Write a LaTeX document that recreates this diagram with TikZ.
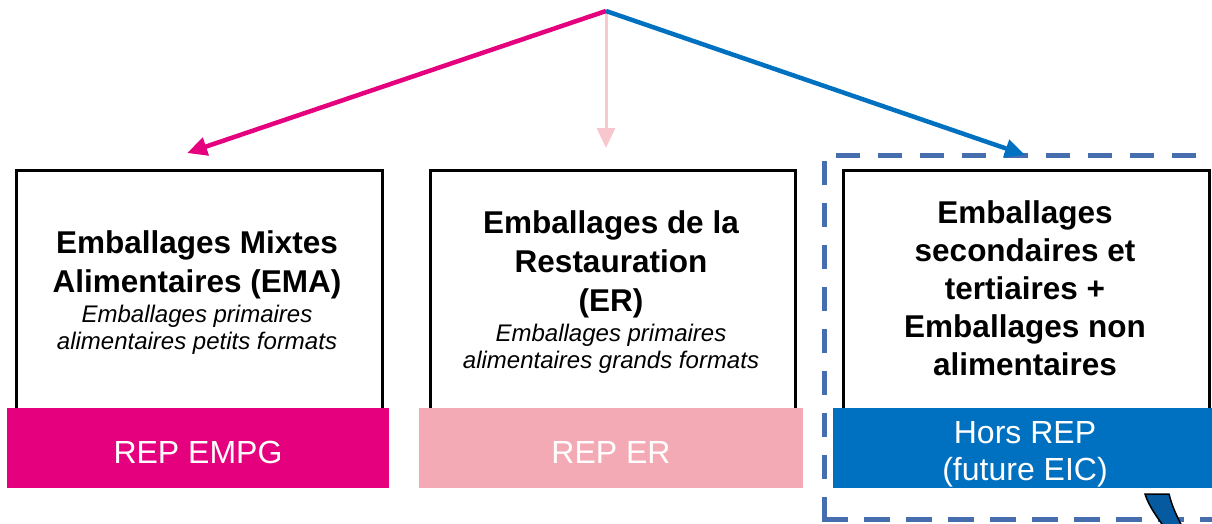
\documentclass[tikz,border=0pt]{standalone}
\usepackage{fontspec}
\setmainfont{Liberation Sans}
\usetikzlibrary{arrows.meta}
\definecolor{mag}{RGB}{229,0,126}
\definecolor{lpink}{RGB}{243,170,180}
\definecolor{lpinkarrow}{RGB}{247,198,206}
\definecolor{bandblue}{RGB}{0,112,192}
\definecolor{dashblue}{RGB}{70,110,175}
\definecolor{darkblue}{RGB}{6,90,160}
\begin{document}
\begin{tikzpicture}[x=1pt,y=-1pt,
  box/.style={draw=black, line width=2.5pt, fill=white, rectangle, inner sep=0pt, anchor=north west},
  band/.style={rectangle, inner sep=0pt, anchor=north west, minimum height=80pt},
  ttl/.style={font=\bfseries\fontsize{31.5}{38}\selectfont, anchor=base, inner sep=0pt},
  sub/.style={font=\itshape\fontsize{24}{27}\selectfont, anchor=base, inner sep=0pt},
  bandtxt/.style={font=\fontsize{32}{37}\selectfont, text=white, anchor=base, inner sep=0pt},
  arr/.style={-{Triangle[length=20pt,width=18pt]}}
]
\useasboundingbox (0,0) rectangle (1212,523);
\clip (0,0) rectangle (1212,523);

% boxes
\node[box, minimum width=366pt, minimum height=243pt] (b1) at (15,169) {};
\node[box, minimum width=365pt, minimum height=243pt] (b2) at (429,169) {};
\node[box, minimum width=366pt, minimum height=243pt] (b3) at (842,169) {};

% bands
\node[band, fill=mag, minimum width=382pt] (r1) at (7,408) {};
\node[band, fill=lpink, minimum width=384pt] (r2) at (419,408) {};
\node[band, fill=bandblue, minimum width=385pt] (r3) at (833,408) {};

% texts box 1
\node[ttl] (t1a) at (197,253) {Emballages Mixtes};
\node[ttl] (t1b) at (197,292) {Alimentaires (EMA)};
\node[sub] (s1a) at (197,322) {Emballages primaires};
\node[sub] (s1b) at (197,349) {alimentaires petits formats};

% texts box 2
\node[ttl] (t2a) at (611,233) {Emballages de la};
\node[ttl] (t2b) at (611,272) {Restauration};
\node[ttl] (t2c) at (611,311) {(ER)};
\node[sub] (s2a) at (611,341) {Emballages primaires};
\node[sub] (s2b) at (611,368) {alimentaires grands formats};

% texts box 3
\node[ttl] (t3a) at (1025,223) {Emballages};
\node[ttl] (t3b) at (1025,261) {secondaires et};
\node[ttl] (t3c) at (1025,299) {tertiaires +};
\node[ttl] (t3d) at (1025,337) {Emballages non};
\node[ttl] (t3e) at (1025,375) {alimentaires};

% band texts
\node[bandtxt] (l1) at (198,463) {REP EMPG};
\node[bandtxt] (l2) at (611,463) {REP ER};
\node[bandtxt] (l3a) at (1025,443) {Hors REP};
\node[bandtxt] (l3b) at (1025,480) {(future EIC)};

% dashed frame
\draw[dashblue, line width=5pt, dash pattern=on 24pt off 18pt, dash phase=40pt]
  (1240,155) -- (824,155) -- (824,519);
\draw[dashblue, line width=5pt, dash pattern=on 26.5pt off 15.5pt]
  (821.5,519) -- (1240,519);

% arrows
\coordinate (apex) at (606,11);
\coordinate (tipA) at (187,153);
\coordinate (tipB) at (606,148);
\coordinate (tipC) at (1025,155);
\draw[arr, lpinkarrow, line width=3pt] (apex) -- (tipB);
\draw[arr, mag, line width=4.5pt] (apex) -- (tipA);
\draw[arr, bandblue, line width=4.5pt] (apex) -- (tipC);

% curved shape fragment at bottom right
\draw[fill=darkblue, draw=black, line width=1.5pt]
  (1145,494) -- (1169,494) .. controls (1172,506) and (1176,515) .. (1184,530)
  -- (1166,530) .. controls (1158,518) and (1149,507) .. cycle;
\end{tikzpicture}
\end{document}
